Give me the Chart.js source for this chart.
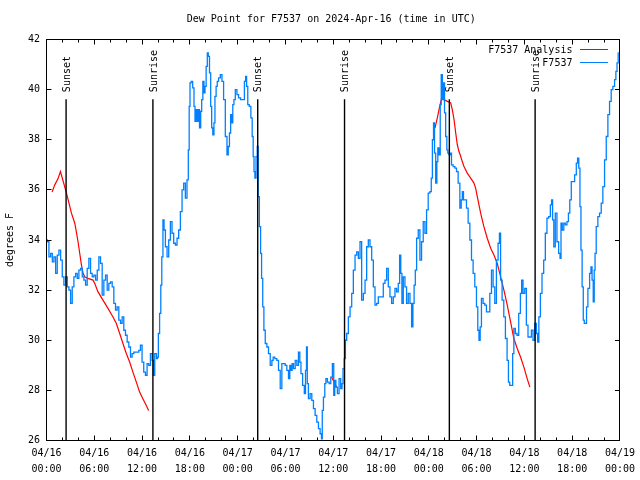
<!DOCTYPE html>
<html><head><meta charset="utf-8">
<script src="https://cdn.jsdelivr.net/npm/chart.js@4/dist/chart.umd.min.js"></script>
<style>html,body{margin:0;padding:0;background:#fff}#wrap{width:640px;height:480px;position:relative}</style>
</head><body><div id="wrap"><canvas id="c"></canvas></div>
<script>
const titleText = 'Dew Point for F7537 on 2024-Apr-16 (time in UTC)';
const yAxisTitle = 'degrees F';
const seriesNames = ['F7537 Analysis', 'F7537'];
const xTickDates = ['04/16','04/16','04/16','04/16','04/17','04/17','04/17','04/17','04/18','04/18','04/18','04/18','04/19'];
const xTickTimes = ['00:00','06:00','12:00','18:00','00:00','06:00','12:00','18:00','00:00','06:00','12:00','18:00','00:00'];
const yTicks = [26,28,30,32,34,36,38,40,42];

// hours since 2024-04-16 00:00 UTC
const obsHours = [0,0.2,0.41,0.63,0.83,1.04,1.25,1.45,1.67,1.88,2.08,2.29,2.51,2.71,2.92,3.13,3.33,3.55,3.76,3.96,4.17,4.39,4.59,4.8,5.01,5.21,5.43,5.64,5.84,6.05,6.27,6.47,6.68,6.89,7.09,7.31,7.52,7.72,7.93,8.15,8.35,8.56,8.77,8.97,9.19,9.4,9.6,9.81,10.02,10.23,10.44,10.65,10.85,11.07,11.48,11.69,11.9,12.1,12.32,12.53,12.73,12.94,13.16,13.36,13.48,13.7,13.91,13.98,14.11,
14.29,14.41,14.54,14.7,14.82,15.04,15.24,15.45,15.66,15.86,16.08,16.29,16.49,16.7,16.92,17.12,17.33,17.54,17.74,17.87,17.96,18.08,18.25,18.46,18.58,18.71,18.87,19.0,19.12,19.3,19.42,19.55,19.71,19.84,19.96,20.13,20.25,20.38,20.55,20.68,20.8,20.96,21.09,21.21,21.38,21.5,21.72,21.93,22.13,22.34,22.56,22.76,22.88,23.06,23.18,23.31,23.47,23.6,23.81,24.01,24.22,24.51,24.76,24.94,25.06,25.19,25.35,25.56,25.76,25.89,26.01,26.1,26.23,26.39,26.52,26.64,26.82,26.94,27.07,27.23,27.36,27.57,27.77,
27.98,28.2,28.4,28.52,28.82,29.02,29.24,29.45,29.65,29.86,30.07,30.28,30.49,30.61,30.78,30.9,31.12,31.33,31.53,31.74,31.87,32.03,32.28,32.46,32.58,32.71,32.78,32.99,33.21,33.41,33.62,33.83,34.04,34.25,34.46,34.59,34.66,34.88,35.0,35.16,35.38,35.59,35.79,36.0,36.13,36.25,36.42,36.63,36.84,37.04,37.17,37.29,37.47,37.59,37.79,38.01,38.22,38.42,38.63,38.85,39.05,39.26,39.47,39.67,39.89,40.1,40.3,40.51,40.73,40.93,41.14,41.35,41.55,41.77,42.18,42.39,42.61,42.81,43.02,43.23,43.43,43.65,43.86,44.06,44.27,44.4,44.56,44.69,44.9,45.11,45.31,45.53,45.74,45.94,46.07,46.24,46.37,46.57,46.78,46.99,47.19,47.41,47.62,47.82,48.03,48.25,48.37,48.53,48.66,48.78,48.95,49.07,49.2,49.37,49.5,49.62,49.79,49.91,50.04,50.2,50.33,50.45,50.63,50.75,50.95,51.17,51.38,51.58,51.79,52.01,52.13,52.29,52.42,52.63,52.83,53.05,53.26,53.46,53.67,53.88,54.09,54.21,54.39,54.51,54.71,54.92,55.14,55.34,55.55,55.77,55.97,56.18,56.39,56.59,56.81,56.93,57.1,57.31,57.52,57.72,57.94,58.06,58.27,58.47,58.59,58.77,58.97,59.18,59.4,59.6,59.72,59.94,60.15,60.35,60.56,60.78,60.98,61.19,61.4,61.6,61.73,61.91,62.11,62.32,62.53,62.73,62.94,63.16,63.36,63.48,63.61,63.78,63.98,64.2,64.41,64.54,64.66,64.86,65.04,65.24,65.45,65.61,65.79,65.99,66.2,66.42,66.62,66.74,66.92,67.04,67.17,67.33,67.46,67.58,67.74,67.87,68.08,68.3,68.42,68.58,68.71,68.83,68.92,69.12,69.33,69.55,69.75,69.96,70.18,70.38,70.59,70.8,71.0,71.22,71.43,71.55,71.72,71.84];
const obsDew = [34.0,33.93,33.33,33.47,33.13,33.33,32.67,33.4,33.6,33.2,32.53,32.2,32.53,32.13,32.0,31.47,32.13,32.53,32.67,32.47,32.8,32.87,32.53,32.4,32.2,32.87,33.27,32.67,32.53,32.6,32.4,32.8,33.33,33.07,31.8,32.4,32.6,32.0,32.27,32.33,32.13,31.47,31.2,31.33,30.8,30.67,30.93,30.4,30.2,29.93,29.73,29.33,29.47,29.53,29.53,29.6,29.8,29.13,28.73,28.6,29.07,29.0,29.47,29.2,28.6,29.47,29.27,29.33,30.27,
31.07,32.2,33.33,34.8,34.4,33.73,33.33,34.0,34.73,34.27,33.87,33.8,34.07,34.4,35.13,36.0,36.27,35.67,36.4,37.6,39.33,40.27,40.33,40.07,39.33,38.73,39.2,38.73,39.2,38.47,39.13,39.6,40.33,39.87,40.13,40.93,41.47,41.33,40.67,39.33,38.47,38.2,38.67,39.73,40.13,40.33,40.47,40.6,40.33,39.6,38.13,37.4,37.73,38.27,39.0,38.67,39.4,39.6,40.0,39.8,39.67,39.6,39.6,40.33,40.53,40.13,39.4,39.33,38.87,38.13,37.33,36.73,36.47,37.33,37.73,35.73,34.53,33.47,32.47,31.33,30.4,29.87,29.73,
29.47,29.0,29.2,29.33,29.27,29.2,28.8,28.07,29.07,29.07,29.0,28.8,28.47,29.0,28.8,29.07,28.87,29.2,29.0,29.53,29.13,28.67,28.2,27.87,28.8,29.73,28.27,27.67,27.87,27.6,27.27,27.0,26.73,26.47,26.27,26.07,27.2,27.73,28.27,28.47,28.33,28.27,28.53,29.07,27.8,28.4,28.13,27.87,28.47,28.07,28.27,28.87,29.27,30.0,30.27,30.93,31.33,31.87,32.8,33.4,33.53,33.27,33.93,31.6,31.87,32.4,33.73,34.0,33.73,33.2,32.13,31.4,31.47,31.73,31.73,32.27,32.4,32.87,32.13,31.73,31.47,31.73,32.07,31.93,32.27,33.4,32.67,31.47,32.53,32.13,31.47,31.87,31.47,30.53,31.47,32.2,32.8,34.07,34.4,33.2,33.93,34.73,34.27,35.2,35.87,35.93,36.47,38.0,38.67,37.47,36.27,37.13,37.67,37.4,39.4,40.6,39.6,40.27,39.07,38.13,37.6,37.47,37.4,37.47,37.0,36.93,36.87,36.73,36.27,35.27,35.6,35.93,35.6,35.6,35.27,34.67,34.0,33.2,32.67,32.13,31.33,30.4,30.0,30.53,31.67,31.47,31.4,31.13,31.13,31.87,32.8,32.13,31.47,33.2,33.87,34.27,32.4,31.6,30.93,30.07,29.2,28.33,28.2,28.2,29.47,30.47,30.27,30.2,31.07,31.87,32.4,31.87,32.07,30.6,30.13,30.13,30.4,30.0,30.67,30.27,29.93,30.93,31.87,32.67,33.2,34.27,34.87,34.93,35.4,35.6,34.8,33.73,35.07,33.93,33.47,33.27,34.67,34.4,34.67,34.6,34.73,35.07,35.6,36.33,36.33,36.6,37.07,37.27,36.87,35.33,33.6,32.13,30.8,30.67,30.67,31.33,32.07,32.67,32.93,32.4,31.53,32.8,33.47,34.53,34.93,35.07,35.47,36.13,37.2,38.13,39.0,39.53,40.0,40.13,40.4,40.73,41.07,41.47];

// analysis: three pieces separated by gaps (null)
const anaHours = [0.7,1.04,1.45,1.75,2.51,3.13,3.55,3.76,3.96,4.17,4.39,4.59,4.8,5.21,5.84,6.05,6.47,7.09,7.72,8.35,8.77,9.19,9.6,10.02,10.44,10.85,11.28,11.69,12.1,12.53,12.82,
  20,
  35.79,36.42,
  42,
  48.78,49.07,49.37,49.62,49.91,50.33,50.75,50.95,51.17,51.38,51.58,51.79,52.01,52.2,52.42,52.83,53.26,53.67,53.88,54.09,54.3,54.51,54.71,54.92,55.34,55.77,56.18,56.59,57.02,57.43,57.85,58.27,58.68,59.1,59.52,59.94,60.35,60.69];
const anaDew = [35.91,36.2,36.45,36.73,35.87,35.07,34.67,34.3,33.93,33.47,33.0,32.67,32.53,32.47,32.4,32.27,31.93,31.6,31.27,30.93,30.67,30.27,29.87,29.47,29.13,28.73,28.33,27.93,27.67,27.4,27.2,
  null,
  28.53,28.13,
  null,
  38.47,38.87,39.33,39.67,39.6,39.53,39.47,39.2,38.8,38.27,37.8,37.53,37.33,37.13,36.93,36.67,36.47,36.27,36.07,35.73,35.4,35.07,34.8,34.53,34.07,33.67,33.4,33.07,32.53,32.0,31.4,30.73,30.07,29.67,29.33,28.93,28.47,28.13];

const eventNames = ['Sunset','Sunrise','Sunset','Sunrise','Sunset','Sunrise'];
const eventHours = [2.46,13.36,26.52,37.42,50.58,61.35];
const eventLineTop = 39.62;   // value where the marker lines stop
const eventLabelBase = 39.9;  // value where the rotated labels start

const FONT = "'DejaVu Sans Mono', 'Liberation Mono', monospace";
const RED = '#ff0000', BLUE = '#0080ff';

Chart.defaults.font.family = FONT;
Chart.defaults.font.size = 10;
Chart.defaults.color = '#000';

const toXY = (hs, vs) => hs.map((h, i) => ({x: h, y: vs[i]}));

const datasets = [
  {label: seriesNames[0], data: toXY(anaHours, anaDew), borderColor: RED, borderWidth: 1.2, pointRadius: 0, tension: 0, spanGaps: false, order: 3},
  {label: seriesNames[1], data: toXY(obsHours, obsDew), borderColor: BLUE, borderWidth: 1.3, pointRadius: 0, tension: 0, stepped: 'middle', order: 2}
];
eventHours.forEach((h, i) => {
  datasets.push({label: eventNames[i], data: [{x: h, y: yTicks[0]}, {x: h, y: eventLineTop}], borderColor: '#000', borderWidth: 1.4, pointRadius: 0, order: 1, isEvent: true});
});

function crisp(v) { return Math.round(v - 0.5) + 0.5; }

const gnuplotDecor = {
  id: 'gnuplotDecor',
  afterDraw(chart) {
    const {ctx, chartArea: a, scales: {x, y}} = chart;
    ctx.save();
    ctx.strokeStyle = '#000';
    ctx.lineWidth = 1;
    // ticks
    ctx.beginPath();
    for (let h = 0; h <= 72; h += 2) {
      const px = crisp(x.getPixelForValue(h));
      const len = (h % 6 === 0) ? 5 : 3;
      ctx.moveTo(px, a.bottom); ctx.lineTo(px, a.bottom - len);
      ctx.moveTo(px, a.top); ctx.lineTo(px, a.top + len);
    }
    yTicks.forEach(v => {
      const py = crisp(y.getPixelForValue(v));
      ctx.moveTo(a.left, py); ctx.lineTo(a.left + 5, py);
      ctx.moveTo(a.right, py); ctx.lineTo(a.right - 5, py);
    });
    ctx.stroke();
    // frame
    ctx.strokeRect(crisp(a.left), crisp(a.top), Math.round(a.right - a.left), Math.round(a.bottom - a.top));
    // title
    ctx.fillStyle = '#000';
    ctx.font = '10px ' + FONT;
    ctx.textAlign = 'center';
    ctx.textBaseline = 'middle';
    ctx.fillText(titleText, (a.left + a.right) / 2 - 2, 19);
    // event labels
    eventHours.forEach((h, i) => {
      const px = x.getPixelForValue(h);
      const py = y.getPixelForValue(eventLabelBase);
      ctx.save();
      ctx.translate(px + 1, py);
      ctx.rotate(-Math.PI / 2);
      ctx.textAlign = 'left';
      ctx.textBaseline = 'middle';
      ctx.fillText(eventNames[i], 0, 0);
      ctx.restore();
    });
    // legend
    const lx = a.right - 47.5, sx0 = a.right - 40, sx1 = a.right - 12;
    [[seriesNames[0], RED, a.top + 10], [seriesNames[1], BLUE, a.top + 23]].forEach(([t, c, ly]) => {
      ctx.textAlign = 'right';
      ctx.textBaseline = 'middle';
      ctx.fillStyle = '#000';
      ctx.fillText(t, lx, ly + 0.5);
      ctx.strokeStyle = c;
      ctx.beginPath();
      ctx.moveTo(sx0, crisp(ly)); ctx.lineTo(sx1, crisp(ly));
      ctx.stroke();
    });
    ctx.restore();
  }
};

new Chart(document.getElementById('c'), {
  type: 'line',
  data: {datasets},
  options: {
    responsive: true,
    maintainAspectRatio: false,
    animation: false,
    layout: {padding: {left: 0, right: 18.5, top: 39.5, bottom: 0}},
    plugins: {legend: {display: false}, title: {display: false}, tooltip: {enabled: false}},
    scales: {
      x: {
        type: 'linear', min: 0, max: 72,
        grid: {display: false, drawTicks: false},
        border: {display: false},
        ticks: {
          stepSize: 6, autoSkip: false, maxRotation: 0, padding: 5,
          font: {size: 10, lineHeight: 1.6},
          callback: (v) => { const i = Math.round(v / 6); return [xTickDates[i], xTickTimes[i]]; }
        },
        afterFit: (s) => { s.height = 39.5; }
      },
      y: {
        type: 'linear', min: 26, max: 42,
        grid: {display: false, drawTicks: false},
        border: {display: false},
        ticks: {stepSize: 2, padding: 6.5, font: {size: 10}},
        title: {display: true, text: yAxisTitle, font: {size: 10}, padding: {top: 4, bottom: 4}},
        afterFit: (s) => { s.width = 46.5; }
      }
    }
  },
  plugins: [gnuplotDecor]
});
</script>
</body></html>
